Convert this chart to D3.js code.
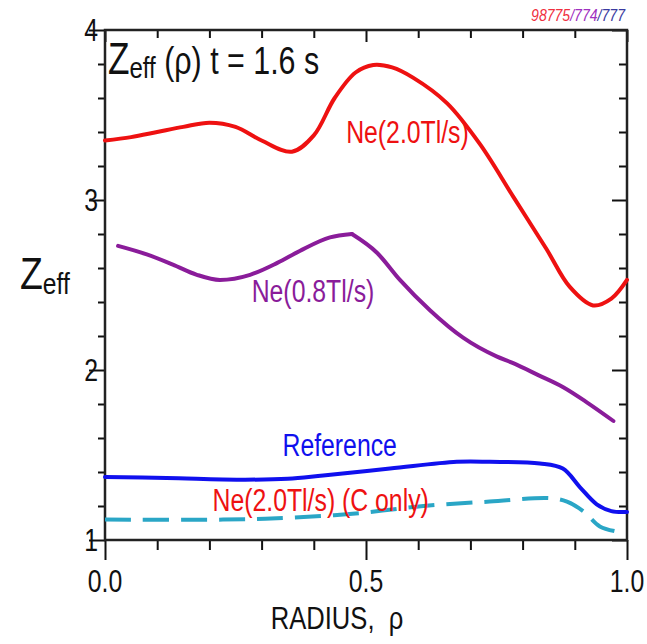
<!DOCTYPE html>
<html>
<head>
<meta charset="utf-8">
<script src="https://cdn.jsdelivr.net/npm/d3@7"></script>
<style>
  html, body { margin: 0; padding: 0; background: #fff; }
  svg { display: block; }
  text { font-family: "Liberation Sans", Arial, sans-serif; white-space: pre; }
</style>
</head>
<body>
<svg id="chart" width="647" height="644"></svg>
<script>
// Zeff radial profiles at t = 1.6 s
const rhoNe20 = [0.0, 0.05, 0.10, 0.15, 0.20, 0.25, 0.30, 0.358, 0.40, 0.44, 0.48, 0.514, 0.55, 0.59, 0.655, 0.718, 0.782, 0.846, 0.89, 0.935, 0.97, 1.0];
const zNe20   = [3.35, 3.37, 3.40, 3.43, 3.455, 3.43, 3.35, 3.284, 3.38, 3.60, 3.75, 3.794, 3.78, 3.72, 3.57, 3.33, 3.02, 2.71, 2.49, 2.38, 2.42, 2.53];

const rhoNe08 = [0.025, 0.08, 0.13, 0.176, 0.22, 0.278, 0.33, 0.373, 0.431, 0.473, 0.521, 0.565, 0.623, 0.686, 0.75, 0.782, 0.83, 0.877, 0.923, 0.974];
const zNe08   = [2.73, 2.68, 2.62, 2.56, 2.53, 2.56, 2.63, 2.70, 2.78, 2.80, 2.69, 2.53, 2.35, 2.19, 2.08, 2.04, 1.97, 1.90, 1.81, 1.70];

const rhoRef = [0.0, 0.118, 0.259, 0.35, 0.418, 0.546, 0.674, 0.737, 0.833, 0.877, 0.91, 0.942, 0.97, 1.0];
const zRef   = [1.37, 1.365, 1.355, 1.36, 1.38, 1.42, 1.46, 1.46, 1.45, 1.42, 1.31, 1.21, 1.17, 1.165];

const rhoC = [0.0, 0.226, 0.35, 0.48, 0.61, 0.737, 0.852, 0.885, 0.916, 0.948, 0.98];
const zC   = [1.12, 1.12, 1.13, 1.156, 1.20, 1.226, 1.246, 1.226, 1.17, 1.08, 1.05];

const xTickLabels = ["0.0", "0.5", "1.0"];
const xTickValues = [0, 0.5, 1.0];
const yTickValues = [1, 2, 3, 4];

const svg = d3.select("#chart");
const L = 105, R = 627, T = 30, B = 540;
const x = d3.scaleLinear().domain([0, 1]).range([L, R]);
const y = d3.scaleLinear().domain([1, 4]).range([B, T]);

// Condensed lettering: regular sans squeezed horizontally
const SQ = 0.8;
function label(parent, px, py, opts = {}) {
  return parent.append("text")
    .attr("transform", `translate(${px},${py}) scale(${opts.sx || SQ},1)`)
    .attr("text-anchor", opts.anchor || "start")
    .attr("font-size", opts.size || 30)
    .attr("fill", opts.fill || "#111");
}

const minorX = d3.range(0, 1.0001, 0.1);
const minorY = d3.range(1, 4.0001, 0.2);
const isMajorX = v => Math.abs(v * 2 - Math.round(v * 2)) < 1e-6;
const isMajorY = v => Math.abs(v - Math.round(v)) < 1e-6;

// Axes: ticks only, labels drawn separately
const axisB = d3.axisBottom(x).tickValues(minorX).tickSizeOuter(0).tickFormat(() => "");
const axisT = d3.axisBottom(x).tickValues(minorX).tickSizeOuter(0).tickFormat(() => "");
const axisL = d3.axisLeft(y).tickValues(minorY).tickSizeOuter(0).tickFormat(() => "");
const axisR = d3.axisLeft(y).tickValues(minorY).tickSizeOuter(0).tickFormat(() => "");

function styleAxis(g, sizeFn) {
  g.select(".domain").remove();
  g.selectAll(".tick line").attr("stroke", "#111").attr("stroke-width", 2);
  g.selectAll(".tick").each(function(d) { sizeFn(d3.select(this).select("line"), d); });
}

svg.append("g").attr("transform", `translate(0,${B})`).call(axisB)
  .call(g => styleAxis(g, (ln, d) => ln.attr("y2", isMajorX(d) ? 20 : 10)));
svg.append("g").attr("transform", `translate(0,${T})`).call(axisT)
  .call(g => styleAxis(g, (ln, d) => ln.attr("y2", isMajorX(d) ? 12 : 8)));
svg.append("g").attr("transform", `translate(${L},0)`).call(axisL)
  .call(g => styleAxis(g, (ln, d) => ln.attr("x2", isMajorY(d) ? -16 : -7)));
svg.append("g").attr("transform", `translate(${R},0)`).call(axisR)
  .call(g => styleAxis(g, (ln, d) => ln.attr("x2", isMajorY(d) ? -15 : -8)));

// Frame
svg.append("rect").attr("x", L).attr("y", T).attr("width", R - L).attr("height", B - T)
  .attr("fill", "none").attr("stroke", "#222").attr("stroke-width", 2.5);

// Tick labels
xTickValues.forEach((v, i) =>
  label(svg, x(v), 592, { anchor: "middle", size: 31 }).text(xTickLabels[i]));
yTickValues.forEach(v =>
  label(svg, 98, y(v) + 11, { anchor: "end", size: 31 }).text(v));

// Axis titles
label(svg, 337, 629, { anchor: "middle", size: 32 }).text("RADIUS,  ρ");

const yl = label(svg, 20, 289, { sx: 0.85 });
yl.append("tspan").attr("font-size", 44).text("Z");
yl.append("tspan").attr("font-size", 29).attr("dy", 5).text("eff");

// Panel title
const tt = label(svg, 108, 74);
tt.append("tspan").attr("font-size", 44).text("Z");
tt.append("tspan").attr("font-size", 30).attr("dy", 4).text("eff");
tt.append("tspan").attr("font-size", 38).attr("dy", -4).text(" (ρ) t = 1.6 s");

// Shot numbers
const sn = label(svg, 625, 21, { anchor: "end", size: 16, sx: 0.88 }).attr("font-style", "italic");
sn.append("tspan").attr("fill", "#f03040").text("98775");
sn.append("tspan").attr("fill", "#a030c0").text("/774");
sn.append("tspan").attr("fill", "#3a3aa0").text("/777");

// Profiles
const smooth = d3.line().x(d => x(d[0])).y(d => y(d[1])).curve(d3.curveCatmullRom.alpha(0.5));
const monotone = d3.line().x(d => x(d[0])).y(d => y(d[1])).curve(d3.curveMonotoneX);

function drawProfile(points, color, gen, dash) {
  svg.append("path")
    .datum(points)
    .attr("d", gen)
    .attr("fill", "none")
    .attr("stroke", color)
    .attr("stroke-width", 4)
    .attr("stroke-linejoin", "round")
    .attr("stroke-linecap", dash ? "butt" : "round")
    .attr("stroke-dasharray", dash);
}
const pts = (rho, z) => rho.map((r, i) => [r, z[i]]);

drawProfile(pts(rhoC, zC), "#2aa6c6", smooth, "26,12");
drawProfile(pts(rhoRef, zRef), "#1010ee", smooth, null);
// Ne(0.8) profile has a cusp at its maximum: draw each side separately
const ne08 = pts(rhoNe08, zNe08);
const kPeak = d3.maxIndex(zNe08);
drawProfile(ne08.slice(0, kPeak + 1), "#8a1c9a", monotone, null);
drawProfile(ne08.slice(kPeak), "#8a1c9a", monotone, null);
drawProfile(pts(rhoNe20, zNe20), "#ee1111", smooth, null);

// Series labels
const seriesLabels = [
  { text: "Ne(2.0Tl/s)", rho: 0.462, z: 3.335, color: "#ee1111" },
  { text: "Ne(0.8Tl/s)", rho: 0.281, z: 2.40, color: "#8a1c9a" },
  { text: "Reference", rho: 0.340, z: 1.494, color: "#1010ee" },
  { text: "Ne(2.0Tl/s) (C only)", rho: 0.206, z: 1.17, color: "#ee1111" }
];
seriesLabels.forEach(d =>
  label(svg, x(d.rho), y(d.z), { size: 31, fill: d.color }).text(d.text));
</script>
</body>
</html>
